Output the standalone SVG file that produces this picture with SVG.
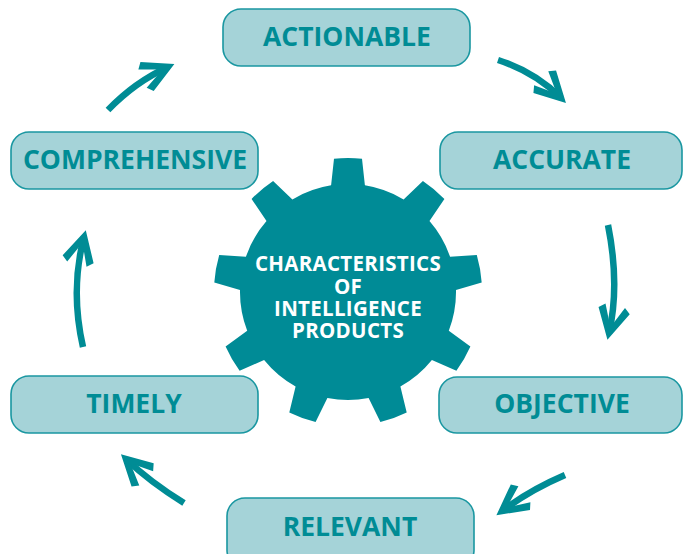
<svg xmlns="http://www.w3.org/2000/svg" width="683" height="554" viewBox="0 0 683 554">
<defs>
<style>
.box{fill:#a5d3d8;stroke:#1a97a1;stroke-width:1.6}
.lbl{font-family:"Open Sans","Liberation Sans",sans-serif;font-weight:bold;font-size:26.5px;fill:#008c95;text-anchor:middle}
.gtxt{font-family:"Open Sans","Liberation Sans",sans-serif;font-weight:bold;font-size:20.5px;letter-spacing:0.3px;fill:#ffffff;text-anchor:middle}
.arr{fill:none;stroke:#008c95;stroke-width:6.5;stroke-linecap:butt;marker-end:url(#head)}
</style>
<marker id="head" markerUnits="userSpaceOnUse" markerWidth="60" markerHeight="60" viewBox="-30 -30 60 60" refX="0" refY="0" orient="auto" overflow="visible">
<polygon points="7,0 -23,-16 -28,-10 -6,0 -28,10 -23,16" fill="#008c95"/>
</marker>
</defs>
<rect width="683" height="554" fill="#ffffff"/>
<g id="gear">
<path fill="#008b96" d="M 331.1,185.3 L 334.0,158.7 A 134 134 0 0 1 362.0,158.7 L 364.9,185.3 A 108 108 0 0 1 403.6,199.4 L 422.9,180.9 A 134 134 0 0 1 444.4,198.9 L 429.5,221.1 A 108 108 0 0 1 450.1,256.8 L 476.8,255.1 A 134 134 0 0 1 481.7,282.6 L 456.0,290.1 A 108 108 0 0 1 448.8,330.7 L 470.4,346.5 A 134 134 0 0 1 456.4,370.8 L 431.9,360.0 A 108 108 0 0 1 400.4,386.5 L 406.7,412.4 A 134 134 0 0 1 380.4,422.0 L 368.6,398.0 A 108 108 0 0 1 327.4,398.0 L 315.6,422.0 A 134 134 0 0 1 289.3,412.4 L 295.6,386.5 A 108 108 0 0 1 264.1,360.0 L 239.6,370.8 A 134 134 0 0 1 225.6,346.5 L 247.2,330.7 A 108 108 0 0 1 240.0,290.1 L 214.3,282.6 A 134 134 0 0 1 219.2,255.1 L 245.9,256.8 A 108 108 0 0 1 266.5,221.1 L 251.6,198.9 A 134 134 0 0 1 273.1,180.9 L 292.4,199.4 A 108 108 0 0 1 331.1,185.3 Z"/>
<text class="gtxt" x="348" y="271">CHARACTERISTICS</text>
<text class="gtxt" x="348" y="294">OF</text>
<text class="gtxt" x="348" y="316">INTELLIGENCE</text>
<text class="gtxt" x="348" y="338">PRODUCTS</text>
</g>
<g id="actionable">
<rect class="box" x="223" y="9" width="247" height="57" rx="18"/>
<text class="lbl" x="347" y="46">ACTIONABLE</text>
</g>
<g id="accurate">
<rect class="box" x="440" y="132" width="242" height="57" rx="18"/>
<text class="lbl" x="562" y="169">ACCURATE</text>
</g>
<g id="objective">
<rect class="box" x="439" y="377" width="243" height="56" rx="18"/>
<text class="lbl" x="562" y="413">OBJECTIVE</text>
</g>
<g id="relevant">
<rect class="box" x="227" y="498" width="247" height="70" rx="18"/>
<text class="lbl" x="350" y="536">RELEVANT</text>
</g>
<g id="timely">
<rect class="box" x="11" y="376" width="247" height="57" rx="18"/>
<text class="lbl" x="134" y="413">TIMELY</text>
</g>
<g id="comprehensive">
<rect class="box" x="11" y="132" width="247" height="57" rx="18"/>
<text class="lbl" x="135" y="169">COMPREHENSIVE</text>
</g>
<g id="connectors">
<path class="arr" d="M108,110 Q135,82 168,67"/>
<path class="arr" d="M498,60 Q535,72 561,98"/>
<path class="arr" d="M608,225 Q620,285 609,333"/>
<path class="arr" d="M565,475 Q530,490 502,511"/>
<path class="arr" d="M184,503 Q150,482 126,459"/>
<path class="arr" d="M83,347 Q70,290 84,237"/>
</g>
</svg>
